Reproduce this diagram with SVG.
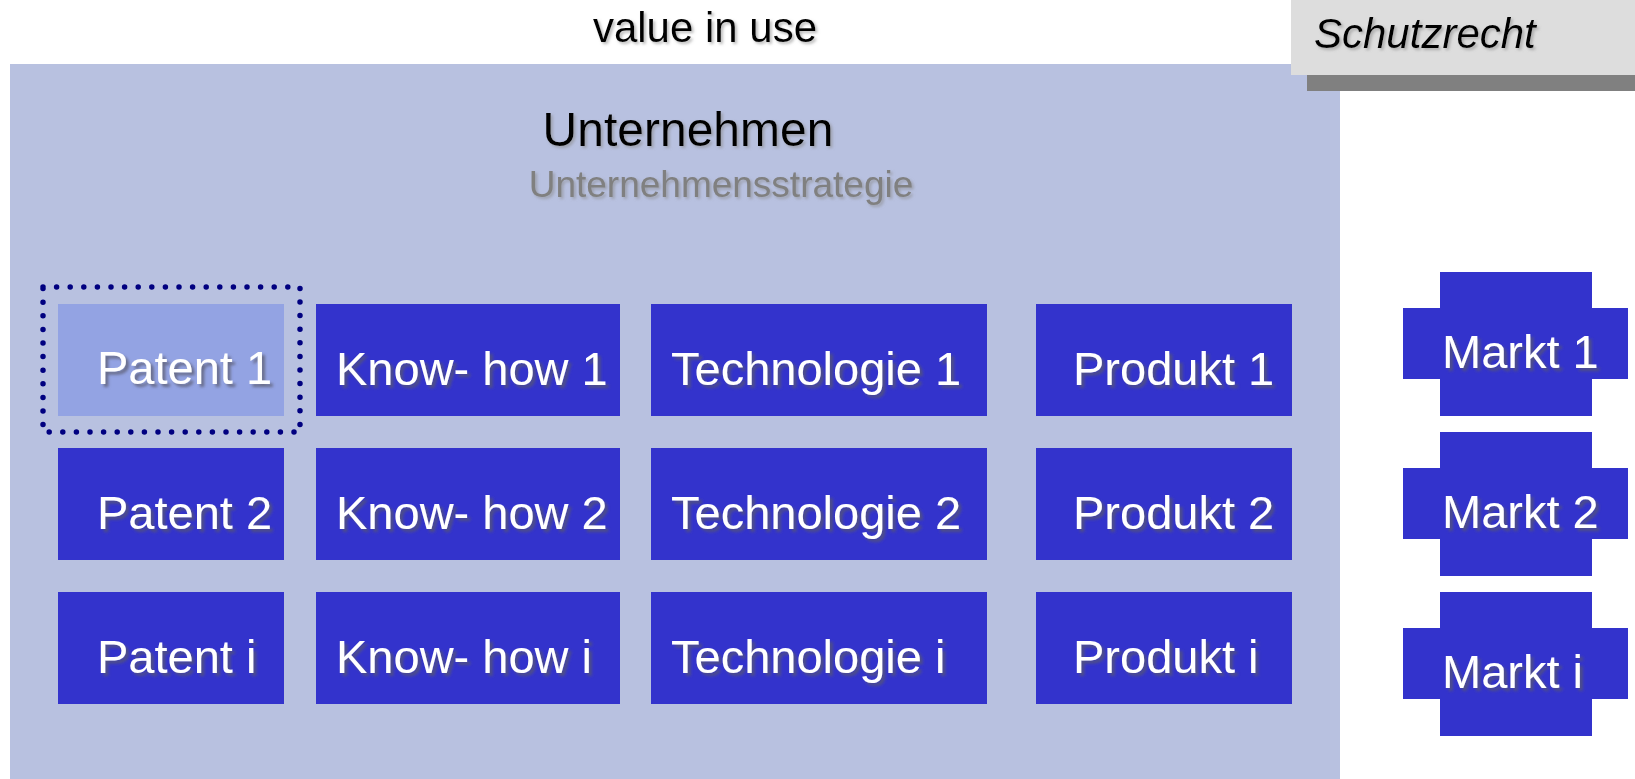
<svg xmlns="http://www.w3.org/2000/svg" width="1635" height="779" viewBox="0 0 1635 779">
<defs>
<filter id="sh" x="-10%" y="-30%" width="130%" height="170%">
<feDropShadow dx="3" dy="3" stdDeviation="1.5" flood-color="#5a5a6a" flood-opacity="0.75"/>
</filter>
<filter id="shl" x="-10%" y="-30%" width="130%" height="170%">
<feDropShadow dx="2" dy="2" stdDeviation="1.5" flood-color="#888888" flood-opacity="0.6"/>
</filter>
<style>
.box{fill:#3333CC}
.lbl{font-family:"Liberation Sans",Arial,sans-serif;font-size:47px;fill:#FFFFFF;filter:url(#sh)}
.hd{font-family:"Liberation Sans",Arial,sans-serif;fill:#000000;filter:url(#shl)}
</style>
</defs>
<rect x="0" y="0" width="1635" height="779" fill="#FFFFFF"/>
<g id="panel">
<rect x="10" y="64" width="1330" height="715" fill="#B8C1E0"/>
<text class="hd" x="688" y="146" font-size="48" text-anchor="middle">Unternehmen</text>
<text x="721" y="197" font-family="Liberation Sans, Arial, sans-serif" font-size="37" fill="#808080" text-anchor="middle" filter="url(#shl)">Unternehmensstrategie</text>
</g>
<g id="title">
<text class="hd" x="705" y="42" font-size="42" text-anchor="middle">value in use</text>
</g>
<g id="schutzrecht">
<rect x="1307" y="75" width="328" height="16" fill="#808080"/>
<rect x="1291" y="0" width="344" height="75" fill="#DDDDDD"/>
<text class="hd" x="1314" y="48" font-size="42" font-style="italic">Schutzrecht</text>
</g>
<g id="patent1">
<rect x="58" y="304" width="226" height="112" fill="#93A3E3"/>
<text class="lbl" x="97" y="384">Patent 1</text>
</g>
<g id="selection">
<rect x="43" y="287" width="257" height="145" fill="none" stroke="#000080" stroke-width="5.5" stroke-linecap="round" stroke-dasharray="0 13.6"/>
</g>
<g id="patent2"><rect class="box" x="58" y="448" width="226" height="112"/><text class="lbl" x="97" y="529">Patent 2</text></g>
<g id="patenti"><rect class="box" x="58" y="592" width="226" height="112"/><text class="lbl" x="97" y="673">Patent i</text></g>
<g id="knowhow1"><rect class="box" x="316" y="304" width="304" height="112"/><text class="lbl" x="336" y="385">Know- how 1</text></g>
<g id="knowhow2"><rect class="box" x="316" y="448" width="304" height="112"/><text class="lbl" x="336" y="529">Know- how 2</text></g>
<g id="knowhowi"><rect class="box" x="316" y="592" width="304" height="112"/><text class="lbl" x="336" y="673">Know- how i</text></g>
<g id="technologie1"><rect class="box" x="651" y="304" width="336" height="112"/><text class="lbl" x="671" y="385">Technologie 1</text></g>
<g id="technologie2"><rect class="box" x="651" y="448" width="336" height="112"/><text class="lbl" x="671" y="529">Technologie 2</text></g>
<g id="technologiei"><rect class="box" x="651" y="592" width="336" height="112"/><text class="lbl" x="671" y="673">Technologie i</text></g>
<g id="produkt1"><rect class="box" x="1036" y="304" width="256" height="112"/><text class="lbl" x="1073" y="385">Produkt 1</text></g>
<g id="produkt2"><rect class="box" x="1036" y="448" width="256" height="112"/><text class="lbl" x="1073" y="529">Produkt 2</text></g>
<g id="produkti"><rect class="box" x="1036" y="592" width="256" height="112"/><text class="lbl" x="1073" y="673">Produkt i</text></g>
<g id="markt1">
<path class="box" d="M1440 272 H1592 V308 H1628 V379 H1592 V416 H1440 V379 H1403 V308 H1440 Z"/>
<text class="lbl" x="1442" y="368">Markt 1</text>
</g>
<g id="markt2">
<path class="box" d="M1440 432 H1592 V468 H1628 V539 H1592 V576 H1440 V539 H1403 V468 H1440 Z"/>
<text class="lbl" x="1442" y="528">Markt 2</text>
</g>
<g id="markti">
<path class="box" d="M1440 592 H1592 V628 H1628 V699 H1592 V736 H1440 V699 H1403 V628 H1440 Z"/>
<text class="lbl" x="1442" y="688">Markt i</text>
</g>
<g id="connectors"></g>
</svg>
